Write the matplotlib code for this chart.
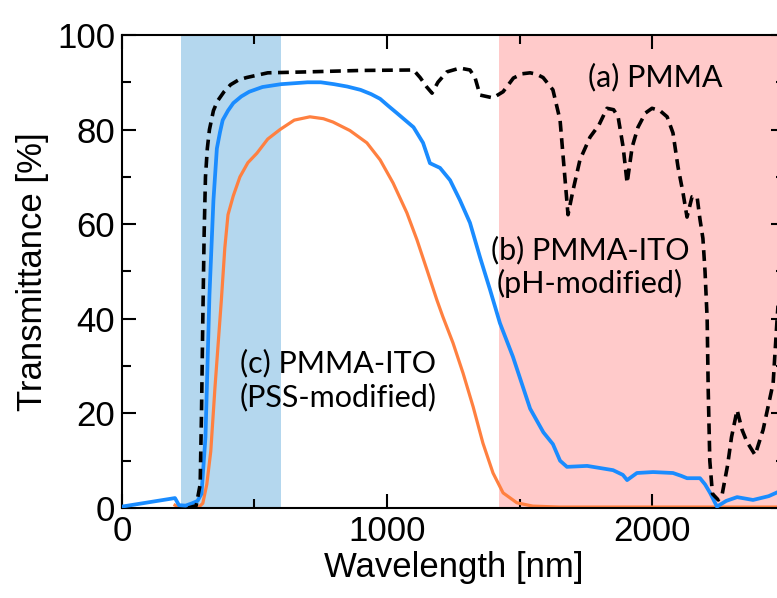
import numpy as np
import matplotlib
matplotlib.use("Agg")
import matplotlib.pyplot as plt
from matplotlib.ticker import MultipleLocator

# (a) PMMA, black dashed
pmma_nm = [250, 280, 295, 300, 305, 310, 315, 322, 330, 345, 360, 385, 410,
           440, 470, 550, 700, 900, 1100,
           1125, 1150, 1170, 1192, 1226, 1275, 1313, 1332, 1351, 1400, 1438,
           1477, 1510, 1540, 1565, 1589, 1626, 1653, 1668, 1683, 1702, 1728,
           1766, 1800, 1830, 1855, 1872, 1891, 1906, 1925, 1947, 1975, 2000,
           2030, 2057, 2079, 2098, 2117, 2132, 2151, 2170, 2181, 2192, 2200,
           2208, 2212, 2218, 2228, 2250, 2265, 2285, 2300, 2321, 2340, 2358,
           2389, 2419, 2457, 2472, 2490, 2500]
pmma_t = [0, 0.5, 5, 20, 40, 58, 70, 76, 80, 84, 86, 88, 89.5,
          90.5, 91, 92, 92.2, 92.5, 92.6,
          91, 89, 87.7, 90, 92.2, 93, 92.6, 91, 87.3, 86.7, 88,
          90.9, 91.8, 92, 91.7, 91, 88.4, 82, 72, 62, 67.2, 73.6,
          78.4, 81, 84.5, 84.2, 82.7, 76.3, 68.7, 76.3, 80.5, 83.5, 84.5,
          84, 82.7, 79.3, 72.1, 66.6, 61.5, 65.8, 65.8, 61, 57, 50,
          40, 25, 10, 3, 1.7, 3, 9, 15, 20.7, 16.5, 14,
          11.2, 16.5, 26.4, 40, 55, 60]

# (b) PMMA-ITO (pH-modified), blue
ph_nm = [0, 200, 215, 240, 265, 285, 300, 315, 330, 345, 358, 370, 380, 400,
         420, 450, 480, 530, 600, 700, 750, 800, 850, 900, 940, 974, 1005,
         1037, 1100, 1136, 1162, 1200, 1238, 1275, 1313, 1351, 1389, 1426,
         1475, 1540, 1590, 1626, 1653, 1679, 1755, 1853, 1890, 1906, 1943,
         2004, 2079, 2110, 2132, 2181, 2200, 2219, 2245, 2280, 2321, 2381,
         2440, 2500]
ph_t = [0.3, 2.1, 0.6, 0.5, 1.0, 1.5, 3, 15, 45, 65, 76, 79.5, 82, 84,
        85.6, 87, 88, 89, 89.6, 90, 90, 89.6, 89.1, 88.4, 87.5, 86.5, 85,
        83.5, 80.5, 77.2, 72.9, 71.9, 69.3, 65.1, 60.3, 53, 46.1, 39.1,
        32, 21, 16, 13.5, 10, 8.7, 8.9, 8.0, 7, 5.9, 7.4,
        7.6, 7.4, 6.8, 6.3, 6.3, 5, 3.2, 0.3, 1.5, 2.3, 1.7,
        2.5, 4]

# (c) PMMA-ITO (PSS-modified), orange
pss_nm = [200, 215, 290, 305, 320, 335, 351, 375, 388, 400, 420, 445, 475,
          509, 550, 596, 650, 709, 760, 796, 860, 924, 974, 1023, 1075, 1113,
          1151, 1188, 1211, 1249, 1287, 1325, 1362, 1400, 1438, 1490, 1550,
          1650, 2500]
pss_t = [0.6, 0.2, 0.2, 1, 5, 12, 25.6, 44, 55, 62, 66, 70, 73,
         75, 78, 80, 82, 82.7, 82.3, 81.6, 79.8, 77.2, 73.6, 68.7, 62.4, 56.7,
         50.3, 44, 40.4, 34.9, 28.5, 21.4, 13.7, 7.4, 3.2, 1.1, 0.4,
         0.2, 0.2]

uv_band = (222, 600)
nir_band = (1422, 2600)


def main():
    fig = plt.figure(figsize=(7.77, 5.98), dpi=100)
    ax = fig.add_axes([0.157, 0.1505, 0.8527, 0.791])

    ax.axvspan(*uv_band, color="#b4d7ee", lw=0, zorder=0)
    ax.axvspan(*nir_band, color="#ffcaca", lw=0, zorder=0)

    ax.plot(pss_nm, pss_t, color="#ff8040", lw=2.3, zorder=2)
    ax.plot(ph_nm, ph_t, color="#1a8cff", lw=2.7, zorder=3)
    ax.plot(pmma_nm, pmma_t, color="black", lw=2.6, dashes=(3.0, 1.8), zorder=4)

    ax.set_xlim(0, 2500)
    ax.set_ylim(0, 100)
    ax.xaxis.set_major_locator(MultipleLocator(1000))
    ax.xaxis.set_minor_locator(MultipleLocator(500))
    ax.yaxis.set_major_locator(MultipleLocator(20))
    ax.yaxis.set_minor_locator(MultipleLocator(10))
    ax.tick_params(which="both", direction="in", top=True, right=True, width=1.5)
    ax.tick_params(which="major", length=10, labelsize=25, pad=5)
    ax.tick_params(which="minor", length=6.5)
    for s in ax.spines.values():
        s.set_linewidth(1.5)
    for lab in ax.get_xticklabels() + ax.get_yticklabels():
        lab.set_family("Liberation Sans")

    ax.set_xlabel("Wavelength [nm]", fontsize=25, family="Liberation Sans", labelpad=2)
    ax.set_ylabel("Transmittance [%]", fontsize=25, family="Liberation Sans", labelpad=6)

    tf = dict(fontsize=22, family="Lato", ha="center", va="center", linespacing=1.2, zorder=5)
    ax.text(2011, 91.1, "(a) PMMA", **tf)
    ax.text(1766, 51, "(b) PMMA-ITO\n(pH-modified)", **tf)
    ax.text(815, 27, "(c) PMMA-ITO\n(PSS-modified)", **tf)

    fig.savefig("out.png", dpi=100)
    plt.close(fig)


if __name__ == "__main__":
    main()
